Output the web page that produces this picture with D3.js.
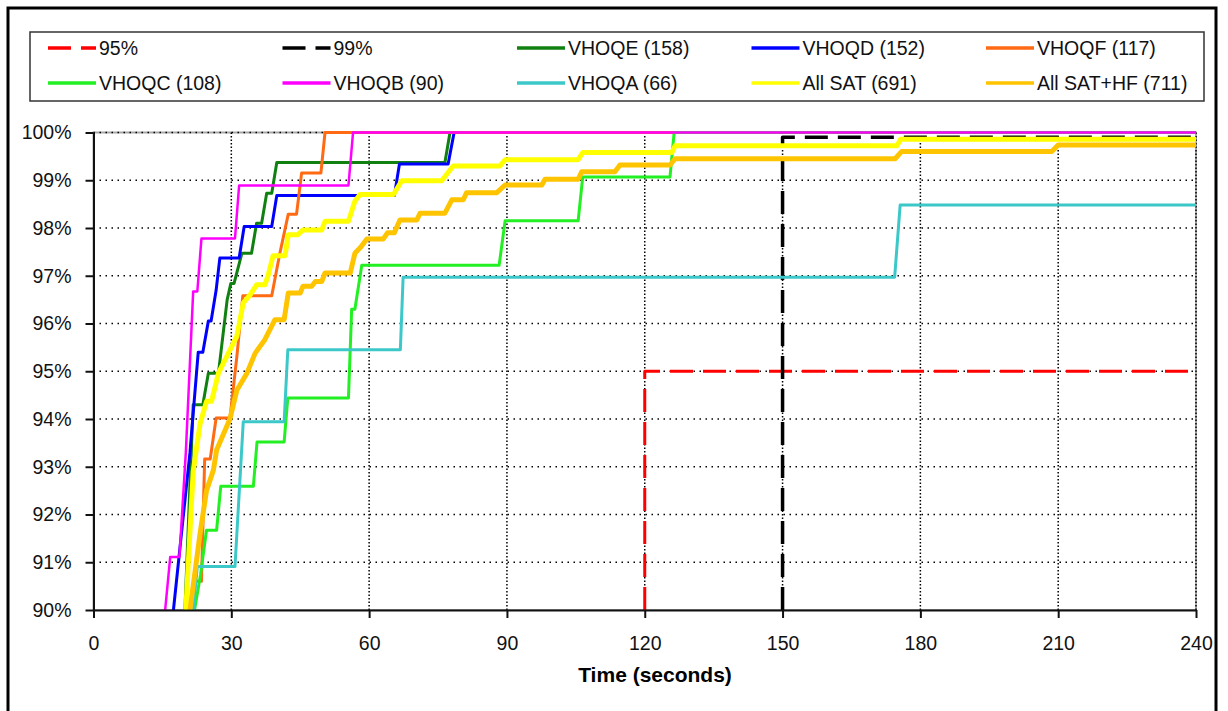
<!DOCTYPE html>
<html>
<head>
<meta charset="utf-8">
<script src="https://cdn.jsdelivr.net/npm/d3@7"></script>
<style>
  html, body { margin: 0; padding: 0; background: #fff; }
  svg { display: block; font-family: "Liberation Sans", Arial, sans-serif; }
</style>
</head>
<body>
<svg id="chart" width="1228" height="711"></svg>
<script>
// Cumulative share of calls completed within a given time, per site.
// Each series is a list of [seconds, percent] vertices of its step curve.
const ref95  = [[120, 90], [120, 95], [240, 95]];
const ref99  = [[150, 90], [150, 99.9], [240, 99.9]];

const vhoqe = [[19.9,90],[21.7,94.3],[23.8,94.3],[25.0,94.96],[27.2,94.96],[29.1,96.5],[29.9,96.84],[30.6,96.84],
  [32.3,97.47],[34.4,97.47],[35.5,98.1],[36.6,98.1],[37.7,98.73],[38.8,98.73],[39.9,99.37],[76.5,99.37],[77.6,100],[240,100]];

const vhoqd = [[17.4,90],[21.0,93.3],[22.8,95.4],[23.8,95.4],[25.0,96.05],[25.6,96.05],[26.7,96.7],[27.5,97.37],
  [31.7,97.37],[32.8,98.03],[38.8,98.03],[39.9,98.68],[65.5,98.68],[66.6,99.34],[77.2,99.34],[78.5,100],[240,100]];

const vhoqf = [[21.7,90],[22.1,90.6],[23.5,90.6],[24.2,93.16],[25.4,93.16],[26.7,94.02],[29.7,94.02],[31.2,95.3],
  [32.5,96.58],[38.8,96.58],[40.5,97.44],[42.4,98.29],[44.2,98.29],[45.3,99.15],[49.5,99.15],[50.4,100],[240,100]];

const vhoqc = [[22.0,90],[23.3,90.74],[24.6,91.67],[26.8,91.67],[27.7,92.59],[34.8,92.59],[35.6,93.52],[41.5,93.52],
  [42.3,94.44],[55.5,94.44],[56.2,96.3],[56.9,96.3],[58.4,97.22],[88.3,97.22],[89.6,98.15],[105.5,98.15],
  [106.5,99.07],[125.5,99.07],[126.4,100],[240,100]];

const vhoqb = [[15.6,90],[16.7,91.11],[18.7,91.11],[20.1,93.3],[21.7,96.67],[22.6,96.67],[23.5,97.78],[30.8,97.78],
  [31.7,98.89],[55.5,98.89],[56.5,100],[240,100]];

const vhoqa = [[21.7,90],[22.6,90.91],[30.8,90.91],[32.6,93.94],[41.5,93.94],[42.3,95.45],[66.8,95.45],[67.4,96.97],
  [174.4,96.97],[175.6,98.48],[240,98.48]];

const allSat = [[20.1,90],[21.7,92.9],[23.2,93.9],[24.6,94.37],[25.7,94.37],[27.2,94.96],[31.2,95.73],[32.6,96.43],
  [34.1,96.6],[35.5,96.81],[37.3,96.81],[38.0,97.0],[39.1,97.42],[41.7,97.42],[42.4,97.86],[44.5,97.86],[45.6,97.96],
  [49.7,97.96],[50.4,98.14],[55.5,98.14],[56.9,98.56],[58.0,98.7],[65.3,98.7],[67.1,98.99],[75.8,98.99],[78.3,99.3],
  [88.5,99.3],[89.6,99.43],[105.5,99.43],[106.5,99.58],[125.9,99.58],[126.6,99.72],[174.9,99.72],[175.7,99.86],[240,99.86]];

const allSatHf = [[21.0,90],[23.2,91.6],[24.6,92.5],[26.1,92.93],[26.8,93.35],[29.7,94.0],[31.2,94.6],[33.4,94.96],
  [35.2,95.38],[37.3,95.66],[39.5,96.08],[41.5,96.08],[42.4,96.64],[45.0,96.64],[45.6,96.78],[47.5,96.78],[48.3,96.88],
  [49.7,96.88],[50.4,97.06],[55.9,97.06],[56.9,97.47],[58.2,97.6],[59.5,97.77],[63.1,97.77],[64.0,97.9],[65.5,97.9],
  [66.7,98.17],[70.4,98.17],[71.1,98.31],[76.5,98.31],[78.0,98.59],[80.5,98.59],[81.2,98.74],[87.8,98.74],[89.6,98.9],
  [97.6,98.9],[98.3,99.02],[105.5,99.02],[106.3,99.18],[113.5,99.18],[114.6,99.32],[125.5,99.32],[126.6,99.45],
  [174.5,99.45],[175.9,99.6],[208.6,99.6],[210.0,99.74],[240,99.74]];

const seriesNames  = ["95%", "99%", "VHOQE (158)", "VHOQD (152)", "VHOQF (117)",
                      "VHOQC (108)", "VHOQB (90)", "VHOQA (66)", "All SAT (691)", "All SAT+HF (711)"];
const seriesData   = [ref95, ref99, vhoqe, vhoqd, vhoqf, vhoqc, vhoqb, vhoqa, allSat, allSatHf];
const seriesColors = ["#ff0000", "#000000", "#108010", "#0000ff", "#ff6a13",
                      "#22f022", "#ff00ff", "#3cc8c8", "#ffff00", "#ffc400"];
const seriesWidths = [3, 3.5, 3, 3, 3, 3, 2.5, 3, 5, 5];
const seriesDashes = ["23,10", "23,10", null, null, null, null, null, null, null, null];

const xTicks = [0, 30, 60, 90, 120, 150, 180, 210, 240];
const yTicks = [90, 91, 92, 93, 94, 95, 96, 97, 98, 99, 100];

const svg = d3.select("#chart");
const font = '"Liberation Sans", Arial, sans-serif';

// chart frame
svg.append("rect").attr("width", 1228).attr("height", 711).attr("fill", "#fff");
svg.append("rect").attr("x", 8).attr("y", 8).attr("width", 1208).attr("height", 730)
  .attr("fill", "none").attr("stroke", "#000").attr("stroke-width", 3);

const x = d3.scaleLinear().domain([0, 240]).range([93.5, 1196]);
const y = d3.scaleLinear().domain([90, 100]).range([610, 132.5]);

// plot area border
svg.append("rect")
  .attr("x", x(0)).attr("y", y(100))
  .attr("width", x(240) - x(0)).attr("height", y(90) - y(100))
  .attr("fill", "none").attr("stroke", "#a8a8a8").attr("stroke-width", 2);

// dotted gridlines
const grid = svg.append("g");
grid.selectAll("line.h").data(yTicks.filter(d => d > 90)).join("line")
  .attr("x1", x(0)).attr("x2", x(240))
  .attr("y1", d => y(d)).attr("y2", d => y(d))
  .attr("stroke", "#000").attr("stroke-width", 1.5).attr("stroke-dasharray", "1.5,4.5");
grid.selectAll("line.v").data(xTicks.filter(d => d > 0)).join("line")
  .attr("y1", y(90)).attr("y2", y(100))
  .attr("x1", d => x(d)).attr("x2", d => x(d))
  .attr("stroke", "#000").attr("stroke-width", 1.5).attr("stroke-dasharray", "1.5,2");

// series
const line = d3.line().x(d => x(d[0])).y(d => y(d[1]));
const lines = svg.append("g");
seriesData.forEach((data, i) => {
  lines.append("path")
    .datum(data)
    .attr("d", line)
    .attr("fill", "none")
    .attr("stroke", seriesColors[i])
    .attr("stroke-width", seriesWidths[i])
    .attr("stroke-linejoin", "round")
    .attr("stroke-dasharray", seriesDashes[i]);
});

// axes
const xAxis = svg.append("g").attr("transform", `translate(0,${y(90)})`)
  .call(d3.axisBottom(x).tickValues(xTicks).tickFormat(d => d).tickSize(8).tickSizeOuter(0).tickPadding(18));
const yAxis = svg.append("g").attr("transform", `translate(${x(0)},0)`)
  .call(d3.axisLeft(y).tickValues(yTicks).tickFormat(d => d + "%").tickSize(8).tickSizeOuter(0).tickPadding(14));
[xAxis, yAxis].forEach(a => {
  a.select(".domain").attr("stroke", "#111").attr("stroke-width", 2);
  a.selectAll(".tick line").attr("stroke", "#111").attr("stroke-width", 2);
  a.selectAll(".tick text").attr("fill", "#111").style("font-size", "19.5px").style("font-family", font);
});

svg.append("text")
  .attr("x", 655).attr("y", 682)
  .attr("text-anchor", "middle")
  .style("font-family", font).style("font-size", "21px").style("font-weight", "bold")
  .text("Time (seconds)");

// legend
const legend = svg.append("g");
legend.append("rect").attr("x", 30).attr("y", 32).attr("width", 1174).attr("height", 69)
  .attr("fill", "#fff").attr("stroke", "#333").attr("stroke-width", 1.5);
const colX = [48, 282.5, 517, 751.5, 986];
const rowY = [48, 83];
seriesNames.forEach((name, i) => {
  const cx = colX[i % 5], cy = rowY[Math.floor(i / 5)];
  legend.append("line")
    .attr("x1", cx).attr("x2", cx + 48).attr("y1", cy).attr("y2", cy)
    .attr("stroke", seriesColors[i]).attr("stroke-width", 3.5)
    .attr("stroke-dasharray", seriesDashes[i]);
  legend.append("text")
    .attr("x", cx + 51).attr("y", cy + 7)
    .style("font-family", font).style("font-size", "19.5px").attr("fill", "#111")
    .text(name);
});
</script>
</body>
</html>
